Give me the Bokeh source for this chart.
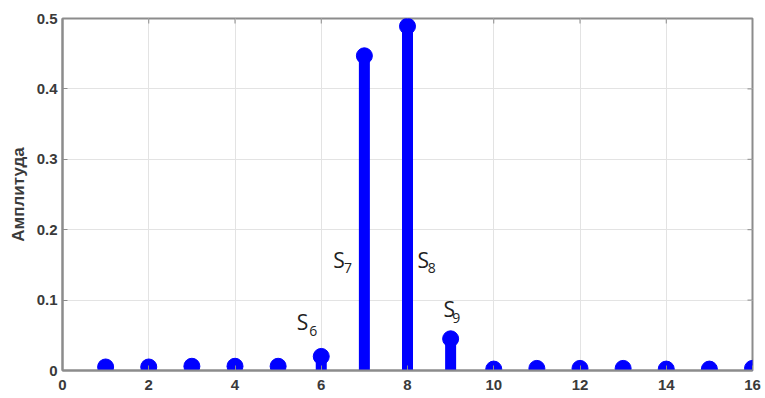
from bokeh.plotting import figure
from bokeh.models import FixedTicker, ColumnDataSource
from bokeh.core.properties import value
from bokeh.embed import file_html
from bokeh.resources import INLINE

# data
harmonics = list(range(1, 17))
amplitudes = [0.005, 0.005, 0.006, 0.006, 0.006, 0.020, 0.447, 0.489,
              0.045, 0.002, 0.003, 0.003, 0.003, 0.002, 0.002, 0.003]
x_ticks = [0, 2, 4, 6, 8, 10, 12, 14, 16]
y_ticks = [0, 0.1, 0.2, 0.3, 0.4, 0.5]
ann_main = ["S", "S", "S", "S"]
ann_sub = ["6", "7", "8", "9"]
ann_x = [5.43, 6.28, 8.23, 8.835]
ann_y = [0.069, 0.157, 0.157, 0.087]
ann_sub_x = [5.72, 6.53, 8.47, 9.04]
ann_sub_y = [0.056, 0.145, 0.145, 0.074]

X_MIN, X_MAX, Y_MIN, Y_MAX = 0, 16, 0, 0.5

p = figure(width=765, height=398, x_range=(X_MIN, X_MAX), y_range=(Y_MIN, Y_MAX),
           output_backend="svg", toolbar_location=None,
           min_border_left=62, min_border_right=13, min_border_top=18, min_border_bottom=28)

src = ColumnDataSource(dict(x=harmonics, y=amplitudes, y0=[0] * len(harmonics)))

p.xgrid.ticker = FixedTicker(ticks=x_ticks)
p.ygrid.ticker = FixedTicker(ticks=y_ticks)
p.grid.grid_line_color = "#e3e3e3"
p.grid.grid_line_width = 1

# inner ticks on the top and right edges of the box
tick_len_y = (Y_MAX - Y_MIN) * 5 / 352
tick_len_x = (X_MAX - X_MIN) * 5 / 690
p.segment(x0=x_ticks, y0=[Y_MAX] * len(x_ticks), x1=x_ticks, y1=[Y_MAX - tick_len_y] * len(x_ticks),
          line_color="#8c8c8c", line_width=1)
p.segment(x0=[X_MAX] * len(y_ticks), y0=y_ticks, x1=[X_MAX - tick_len_x] * len(y_ticks), y1=y_ticks,
          line_color="#8c8c8c", line_width=1)

p.segment(x0="x", y0="y0", x1="x", y1="y", source=src, line_color="#0000FF", line_width=11)
p.scatter(x="x", y="y", source=src, size=16, color="#0000FF")

p.text(x=ann_x, y=ann_y, text=ann_main, text_font=value("Open Sans"),
       text_font_size="21px", text_color="#222222", text_align="left", text_baseline="alphabetic")
p.text(x=ann_sub_x, y=ann_sub_y, text=ann_sub, text_font=value("Open Sans"),
       text_font_size="14px", text_color="#222222", text_align="left", text_baseline="alphabetic")

for ax in [p.xaxis[0], p.yaxis[0]]:
    ax.axis_line_color = "#8c8c8c"
    ax.axis_line_width = 2
    ax.major_tick_line_color = "#8c8c8c"
    ax.major_tick_in = 5
    ax.major_tick_out = 0
    ax.minor_tick_line_color = None
    ax.major_label_text_font = "Liberation Sans"
    ax.major_label_text_font_style = "bold"
    ax.major_label_text_font_size = "15px"
    ax.major_label_text_color = "#3a3a3a"

p.xaxis.ticker = FixedTicker(ticks=x_ticks)
p.yaxis.ticker = FixedTicker(ticks=y_ticks)
p.yaxis.major_label_overrides = {0: "0", 0.1: "0.1", 0.2: "0.2", 0.3: "0.3", 0.4: "0.4", 0.5: "0.5"}
p.xaxis.major_label_standoff = 9
p.yaxis.major_label_standoff = 5
p.yaxis.axis_label = "Амплитуда"
p.yaxis.axis_label_text_font = "Liberation Sans"
p.yaxis.axis_label_text_font_style = "bold"
p.yaxis.axis_label_text_font_size = "17px"
p.yaxis.axis_label_text_color = "#3a3a3a"
p.yaxis.axis_label_standoff = 6

p.outline_line_color = "#8c8c8c"
p.outline_line_width = 2

open("out.html", "w").write(file_html(p, INLINE))
